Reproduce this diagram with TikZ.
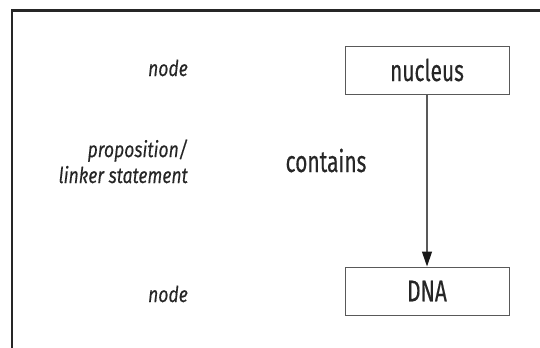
\documentclass[tikz,border=0pt]{standalone}
\usepackage{fontspec}
\setmainfont{Fira Sans}[FakeStretch=0.7,FakeBold=0.4,ItalicFeatures={FakeStretch=0.8,FakeBold=0.2}]
\usetikzlibrary{positioning,arrows.meta}

\begin{document}
\begin{tikzpicture}[x=1bp,y=1bp,
    box/.style={draw=black!65,line width=1bp,minimum width=164bp,minimum height=48bp,inner sep=0pt,text=black!85,font=\fontsize{30}{36}\selectfont},
    link/.style={inner sep=0pt,text=black!85,font=\fontsize{30}{36}\selectfont},
    tag/.style={inner sep=0pt,align=right,text=black!85,font=\fontsize{22}{26}\selectfont\itshape}]
        \useasboundingbox (0,0) rectangle (540,347);
        % frame
        \draw[black!85,line width=2.5bp] (12,-2) -- (12,336.3) -- (542,336.3);
        % concepts
        \node[box] (nucleus) at (427,277) {nucleus};
        \node[box] (dna) at (427,56) {DNA};
        \draw[black!65,line width=1.2bp,-{Triangle[width=10bp,length=15bp,color=black!90]}] (nucleus) -- (dna);%linking arrow
        \node[link,anchor=base] (contains) at (326,175) {contains};
        % legend on the left
        \node[tag,anchor=base east] (topnode) at (188,271) {node};
        \node[tag,anchor=base east] (prop) at (188,164) {proposition/\\linker statement};
        \node[tag,anchor=base east] (botnode) at (188,45) {node};
\end{tikzpicture}
\end{document}
